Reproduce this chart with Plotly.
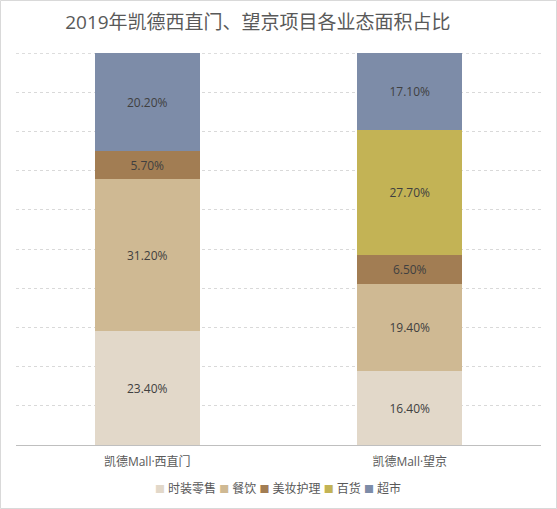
import plotly.graph_objects as go

categories = ["凯德Mall·西直门", "凯德Mall·望京"]
series_names = ["时装零售", "餐饮", "美妆护理", "百货", "超市"]
fashion = [23.4, 16.4]
dining = [31.2, 19.4]
beauty = [5.7, 6.5]
department = [0, 27.7]
supermarket = [20.2, 17.1]
colors = ["#E2D8C9", "#CFB993", "#A27D53", "#C3B355", "#7D8CA8"]

FONT = "Open Sans, Noto Sans CJK SC, sans-serif"

fig = go.Figure()
for name, vals, col in zip(series_names,
                           [fashion, dining, beauty, department, supermarket],
                           colors):
    labels = ["{:.2f}%".format(v) if v else "" for v in vals]
    fig.add_trace(go.Bar(
        x=categories, y=vals, name=name, marker_color=col,
        marker_line_width=0,
        text=labels, textposition="inside", insidetextanchor="middle",
        textfont=dict(size=12, color="#404040"),
        textangle=0, showlegend=False,
    ))

# legend drawn as one compact line of text, like the original
legend_text = " ".join(
    '<span style="color:{}; font-size:10px">■</span> {}'.format(c, n)
    for n, c in zip(series_names, colors))

fig.update_layout(
    barmode="stack", barnorm="percent", bargap=0.6,
    width=557, height=509,
    margin=dict(l=16, r=16, t=53, b=64),
    paper_bgcolor="white", plot_bgcolor="rgba(0,0,0,0)",
    font=dict(family=FONT, size=12, color="#595959"),
    title=dict(text="2019年凯德西直门、望京项目各业态面积占比",
               x=0.463, xanchor="center", y=0.957, yanchor="middle",
               font=dict(size=19, color="#595959")),
    uniformtext=dict(minsize=8, mode="show"),
    annotations=[dict(text=legend_text, xref="paper", yref="paper",
                      x=0.499, y=-43/392, xanchor="center", yanchor="middle",
                      showarrow=False, font=dict(size=12, color="#595959"))],
    shapes=[
        dict(type="rect", xref="paper", yref="paper",
             x0=-15.5/525, x1=1+15.5/525, y0=-63.5/392, y1=1+52.5/392,
             line=dict(color="#D9D9D9", width=1)),
        # top gridline, which plotly leaves out at the range edge
        dict(type="line", xref="paper", yref="y", x0=0, x1=1, y0=99.9, y1=99.9,
             layer="below", line=dict(color="#D9D9D9", width=1,
                                      dash="3px,3px")),
    ],
)
fig.update_yaxes(range=[0, 100], dtick=10, showticklabels=False,
                 showgrid=True, gridcolor="#D9D9D9", griddash="3px,3px",
                 zeroline=False)
fig.update_xaxes(showline=True, linecolor="#BFBFBF", linewidth=1,
                 ticks="", ticklabelstandoff=6,
                 tickfont=dict(size=12, color="#595959"))

fig.write_html("out.html", config={"displayModeBar": False},
               post_script="document.body.style.margin='0';")
